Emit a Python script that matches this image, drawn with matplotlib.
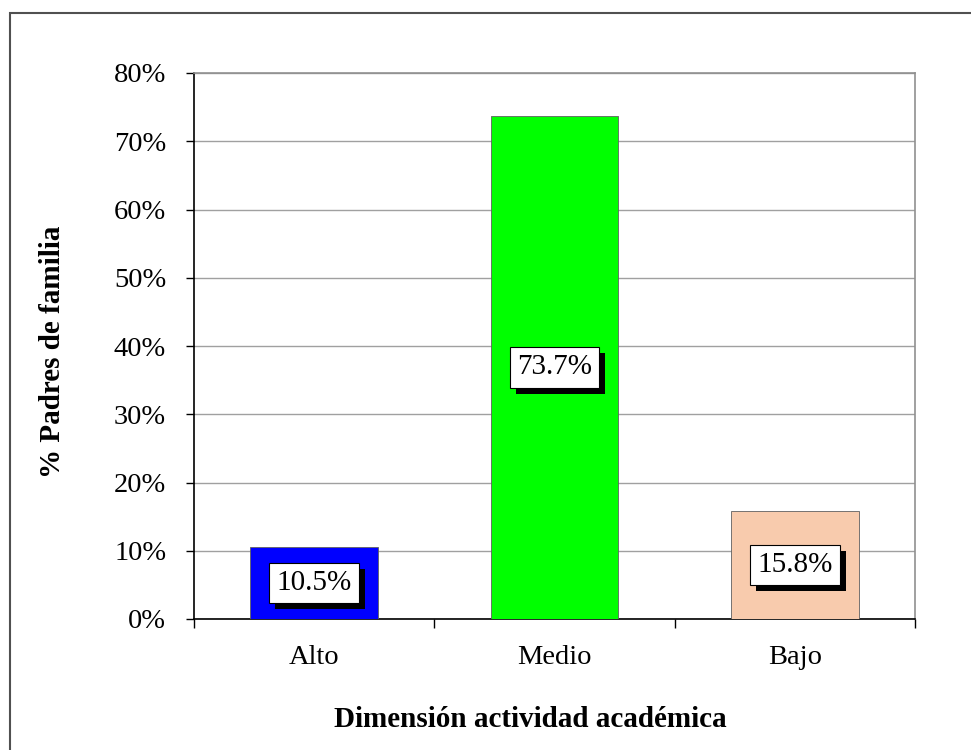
import matplotlib.pyplot as plt
import matplotlib.patheffects as pe
from matplotlib.patches import Rectangle
from matplotlib.ticker import FuncFormatter, FixedLocator

plt.rcParams['font.family'] = ['Liberation Serif', 'DejaVu Serif']

# datos
categorias = ['Alto', 'Medio', 'Bajo']
porcentajes = [10.5, 73.7, 15.8]
colores = ['#0000FF', '#00FF00', '#F8CBAD']

fig = plt.figure(figsize=(9.71, 7.5), dpi=100)
ax = fig.add_axes([194/971, 1-619/750, 721/971, 546/750])

x = range(len(categorias))
bars = ax.bar(x, porcentajes, width=0.53, color=colores,
              edgecolor='#606060', linewidth=0.6, zorder=3)

# etiquetas con sombra en el centro de cada barra
sombra = [pe.withSimplePatchShadow(offset=(4.3, -4.3), shadow_rgbFace='black', alpha=1.0)]
for xi, v in zip(x, porcentajes):
    ax.text(xi, v/2, f'{v:.1f}%', ha='center', va='center', fontsize=21, zorder=5,
            bbox=dict(boxstyle='square,pad=0.25', facecolor='white', edgecolor='black',
                      linewidth=0.8, path_effects=sombra))

ax.set_xlim(-0.5, 2.5)
ax.set_ylim(0, 80)
ax.set_yticks(range(0, 81, 10))
ax.yaxis.set_major_formatter(FuncFormatter(lambda v, p: f'{v:.0f}%'))
ax.grid(axis='y', color='#A0A0A0', linewidth=1, zorder=0)

ax.set_xticks(list(x))
ax.set_xticklabels(categorias)
ax.xaxis.set_minor_locator(FixedLocator([-0.5, 0.5, 1.5, 2.5]))
ax.tick_params(axis='x', which='major', length=0, pad=19, labelsize=20.5)
ax.tick_params(axis='x', which='minor', length=6.5, width=1, direction='out')
ax.tick_params(axis='y', length=6, width=1, direction='out', labelsize=20.5, pad=14)

for s in ['top', 'right']:
    ax.spines[s].set_color('#909090')
    ax.spines[s].set_linewidth(1.2)
for s in ['left', 'bottom']:
    ax.spines[s].set_color('black')
    ax.spines[s].set_linewidth(1.2)

ax.set_ylabel('% Padres de familia', fontsize=21, fontweight='bold')
ax.set_xlabel('Dimensión actividad académica', fontsize=21, fontweight='bold')
ax.yaxis.set_label_coords(-0.1775, 0.49)
ax.xaxis.set_label_coords(0.467, -0.16)

# marco exterior del grafico
fig.patches.append(Rectangle((10/971, -0.02), 1.05, 1-13/750+0.02, transform=fig.transFigure,
                             fill=False, edgecolor='#505050', linewidth=1.5))

fig.savefig('out.png', dpi=100)
